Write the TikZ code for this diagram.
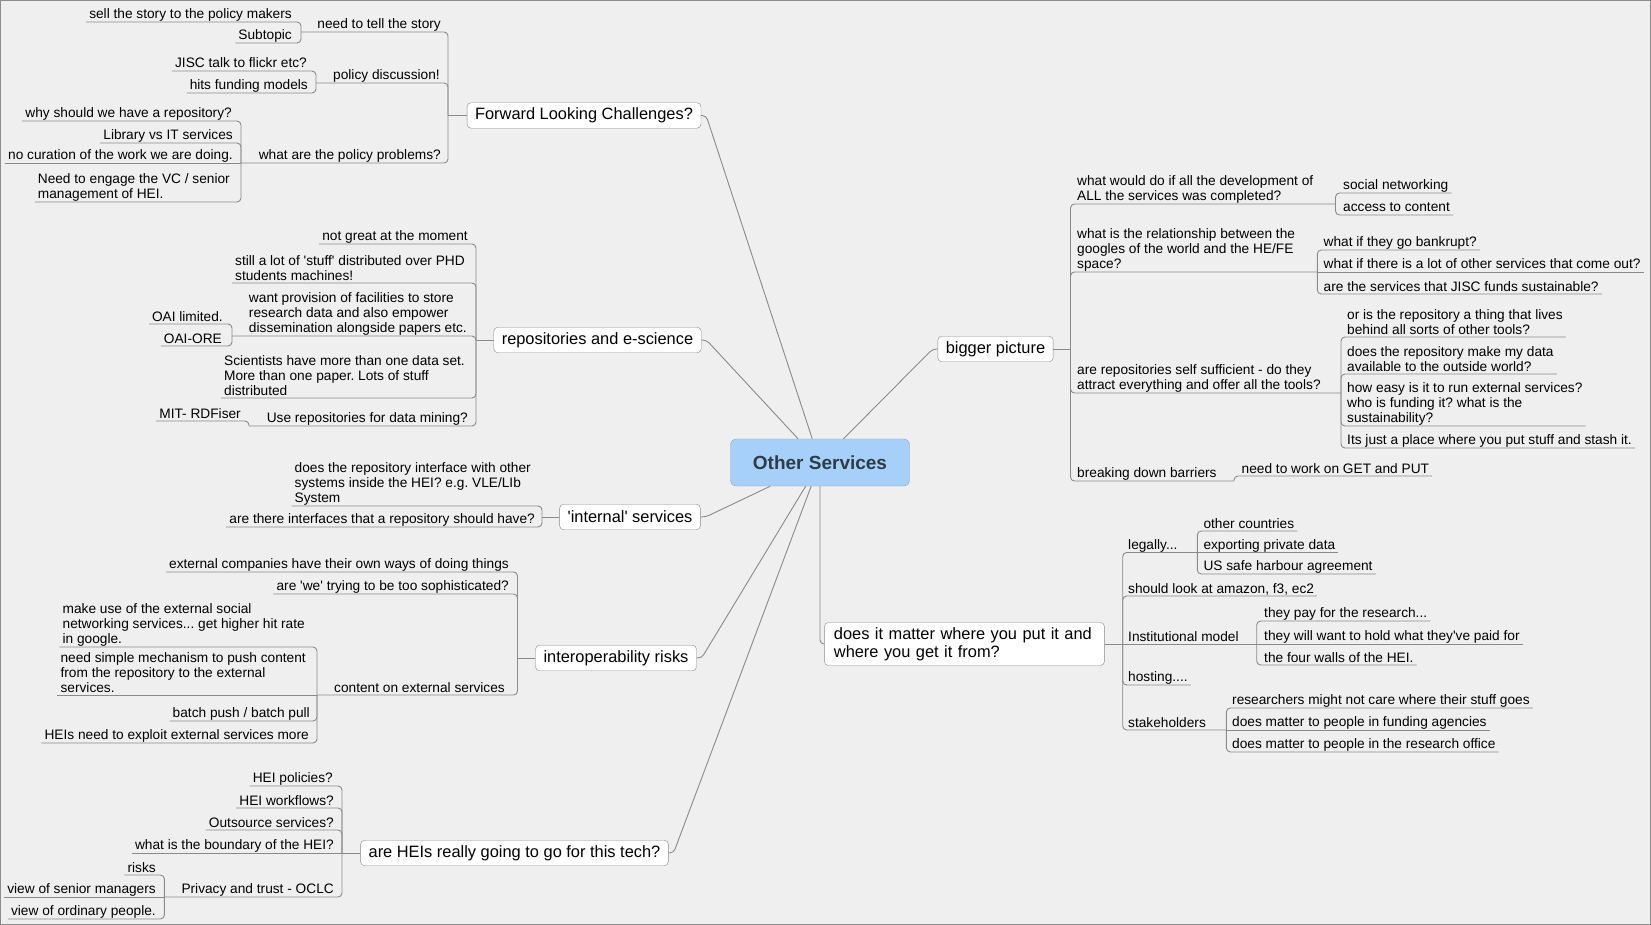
\documentclass[tikz,border=0pt]{standalone}
\usepackage{fontspec}
\setmainfont{Liberation Sans}
\frenchspacing
\definecolor{paper}{HTML}{EFEFEF}
\definecolor{frame}{HTML}{8C8C8C}
\definecolor{wire}{HTML}{8A8A8A}
\definecolor{rootfill}{HTML}{A6D0FA}
\definecolor{rootline}{HTML}{8FA3B8}
\definecolor{roottext}{HTML}{2F3B47}
\newcommand\ulfix{\rule[-2.8pt]{0pt}{2.8pt}}

\begin{document}
\begin{tikzpicture}[x=1pt,y=-1pt,
    root/.style={draw=rootline,fill=rootfill,rounded corners=6pt,minimum width=179pt,minimum height=47pt,
      font=\fontsize{19}{22}\selectfont\bfseries,text=roottext},
    topic/.style={draw=wire,fill=white,rounded corners=4pt,minimum height=25.5pt,inner xsep=8pt,inner ysep=0pt,
      font=\fontsize{16.4}{18.3}\selectfont},
    leaf/.style={inner xsep=3pt,inner ysep=0pt,align=left,font=\fontsize{13.7}{15}\selectfont,execute at end node=\ulfix},
    lleaf/.style={leaf,anchor=south east},
    rleaf/.style={leaf,anchor=south west},
    link/.style={draw=wire,line width=0.9pt,rounded corners=4pt}]
  \useasboundingbox (0,0) rectangle (1651,925);
  \fill[paper] (0,0) rectangle (1651,925);
  \draw[frame] (0.5,0.5) rectangle (1650.5,924.5);

  \node[root] (center) at (820,462.5) {Other Services};

  \node[topic] (fwd) at (584,115.5) {Forward Looking Challenges?};
  \node[topic] (repo) at (597.5,340) {repositories and e-science};
  \node[topic] (internal) at (630,517) {\textquotesingle internal\textquotesingle{} services};
  \node[topic] (interop) at (616,658) {interoperability risks};
  \node[topic] (heis) at (514.5,853) {are HEIs really going to go for this tech?};
  \node[topic] (big) at (995.5,349) {bigger picture};
  \node[topic,align=left,text width=261pt,inner xsep=9.5pt,minimum height=43pt] (matter) at (964.4,644)
    {does it matter where you put it and\\where you get it from?};

  \node[lleaf] (need) at (444,32) {need to tell the story};
  \node[lleaf] (sell) at (295,22) {sell the story to the policy makers};
  \node[lleaf] (subtopic) at (295,43) {Subtopic};
  \node[lleaf] (policy) at (443,83) {policy discussion!};
  \node[lleaf] (flickr) at (310,71) {JISC talk to flickr etc?};
  \node[lleaf] (funding) at (311,93) {hits funding models};
  \node[lleaf] (problems) at (444,163) {what are the policy problems?};
  \node[lleaf] (why) at (235,121) {why should we have a repository?};
  \node[lleaf] (libit) at (236,143) {Library vs IT services};
  \node[lleaf] (curation) at (236,163) {no curation of the work we are doing.};
  \node[lleaf] (engage) at (233,202) {Need to engage the VC / senior\\management of HEI.};
  \coordinate (fwd-s) at (448,115.5);
  \coordinate (need-s) at (301,32);
  \coordinate (policy-s) at (316,83);
  \coordinate (problems-s) at (241,163);

  \node[lleaf] (notgreat) at (471,244) {not great at the moment};
  \node[lleaf] (phd) at (468,283) {still a lot of \textquotesingle stuff\textquotesingle{} distributed over PHD\\students machines!};
  \node[lleaf] (provision) at (470,336) {want provision of facilities to store\\research data and also empower\\dissemination alongside papers etc.};
  \node[lleaf] (oailim) at (226,324) {OAI limited.};
  \node[lleaf] (oaiore) at (225,346) {OAI-ORE};
  \node[lleaf] (datasets) at (468,398) {Scientists have more than one data set.\\More than one paper. Lots of stuff\\distributed};
  \node[lleaf] (mining) at (471,426) {Use repositories for data mining?};
  \node[lleaf] (rdfiser) at (244,421) {MIT- RDFiser};
  \coordinate (repo-s) at (476,340);
  \coordinate (provision-s) at (232,336);
  \coordinate (mining-s) at (249,426);

  \node[lleaf] (iface) at (534,506) {does the repository interface with other\\systems inside the HEI? e.g. VLE/LIb\\System};
  \node[lleaf] (ifhave) at (538,527) {are there interfaces that a repository should have?};
  \coordinate (internal-s) at (542,517);

  \node[lleaf] (extcomp) at (512,572) {external companies have their own ways of doing things};
  \node[lleaf] (sophist) at (512,594) {are \textquotesingle we\textquotesingle{} trying to be too sophisticated?};
  \node[lleaf] (content) at (508,695) {content on external services};
  \node[lleaf] (hitrate) at (308,647) {make use of the external social\\networking services... get higher hit rate\\in google.};
  \node[lleaf] (push) at (309,695) {need simple mechanism to push content\\from the repository to the external\\services.};
  \node[lleaf] (batch) at (313,721) {batch push / batch pull};
  \node[lleaf] (exploit) at (312,743) {HEIs need to exploit external services more};
  \coordinate (interop-s) at (517.5,658);
  \coordinate (content-s) at (317,695);

  \node[lleaf] (heipol) at (336,786) {HEI policies?};
  \node[lleaf] (heiwork) at (337,808) {HEI workflows?};
  \node[lleaf] (outsource) at (337,830) {Outsource services?};
  \node[lleaf] (boundary) at (337,853) {what is the boundary of the HEI?};
  \node[lleaf] (privacy) at (337,897) {Privacy and trust - OCLC};
  \node[lleaf] (risks) at (159,875) {risks};
  \node[lleaf] (seniors) at (159,897) {view of senior managers};
  \node[lleaf] (ordinary) at (159,919) {view of ordinary people.};
  \coordinate (heis-s) at (342,853);
  \coordinate (privacy-s) at (164.4,897);

  \node[rleaf] (develop) at (1074,204) {what would do if all the development of\\ALL the services was completed?};
  \node[rleaf] (socialnet) at (1340,193) {social networking};
  \node[rleaf] (access) at (1340,215) {access to content};
  \node[rleaf] (relation) at (1074,272) {what is the relationship between the\\googles of the world and the HE/FE\\space?};
  \node[rleaf] (bankrupt) at (1320.5,250) {what if they go bankrupt?};
  \node[rleaf] (comeout) at (1320.5,272) {what if there is a lot of other services that come out?};
  \node[rleaf] (sustain) at (1320.5,294) {are the services that JISC funds sustainable?};
  \node[rleaf] (selfsuff) at (1074,393) {are repositories self sufficient - do they\\attract everything and offer all the tools?};
  \node[rleaf] (lives) at (1344,337) {or is the repository a thing that lives\\behind all sorts of other tools?};
  \node[rleaf] (outside) at (1344,374) {does the repository make my data\\available to the outside world?};
  \node[rleaf] (easy) at (1344,426) {how easy is it to run external services?\\who is funding it? what is the\\sustainability?};
  \node[rleaf] (stash) at (1344,448) {Its just a place where you put stuff and stash it.};
  \node[rleaf] (barriers) at (1074,481) {breaking down barriers};
  \node[rleaf] (getput) at (1238.5,476) {need to work on GET and PUT};
  \coordinate (big-s) at (1070.5,349);
  \coordinate (develop-s) at (1335.5,204);
  \coordinate (relation-s) at (1317.3,272);
  \coordinate (selfsuff-s) at (1341,393);
  \coordinate (barriers-s) at (1234,481);

  \node[rleaf] (legally) at (1125,552.5) {legally...};
  \node[rleaf] (countries) at (1200.3,531) {other countries};
  \node[rleaf] (private) at (1200.3,552.5) {exporting private data};
  \node[rleaf] (harbour) at (1200.3,574) {US safe harbour agreement};
  \node[rleaf] (amazon) at (1125,596) {should look at amazon, f3, ec2};
  \node[rleaf] (instit) at (1125,644) {Institutional model};
  \node[rleaf] (research) at (1261,621) {they pay for the research...};
  \node[rleaf] (paidfor) at (1261,644) {they will want to hold what they\textquotesingle ve paid for};
  \node[rleaf] (walls) at (1261,665) {the four walls of the HEI.};
  \node[rleaf] (hosting) at (1125,685) {hosting....};
  \node[rleaf] (stake) at (1125,730) {stakeholders};
  \node[rleaf] (care) at (1229,708) {researchers might not care where their stuff goes};
  \node[rleaf] (agencies) at (1229,730) {does matter to people in funding agencies};
  \node[rleaf] (office) at (1229,752) {does matter to people in the research office};
  \coordinate (matter-s) at (1122.7,644);
  \coordinate (legally-s) at (1197.3,552.5);
  \coordinate (instit-s) at (1256.7,644);
  \coordinate (stake-s) at (1226.4,730);

  \begin{scope}[link]
    \draw (center) -- ([xshift=5pt]fwd.east) -- (fwd.east);
    \draw (center) -- ([xshift=5pt]repo.east) -- (repo.east);
    \draw (center) -- ([xshift=5pt]internal.east) -- (internal.east);
    \draw (center) -- ([xshift=5pt]interop.east) -- (interop.east);
    \draw (center) -- ([xshift=5pt]heis.east) -- (heis.east);
    \draw (center) -- ([xshift=-5pt]big.west) -- (big.west);
    \draw (center) |- (matter.west);

    \draw (fwd.west) -- (fwd-s);
    \draw (need-s) -| (fwd-s);
    \draw (policy-s) -| (fwd-s);
    \draw (problems-s) -| (fwd-s);
    \draw (sell.south west) -| (need-s);
    \draw (subtopic.south west) -| (need-s);
    \draw (flickr.south west) -| (policy-s);
    \draw (funding.south west) -| (policy-s);
    \draw (why.south west) -| (problems-s);
    \draw (libit.south west) -| (problems-s);
    \draw (curation.south west) -- (problems-s);
    \draw (engage.south west) -| (problems-s);

    \draw (repo.west) -- (repo-s);
    \draw (notgreat.south west) -| (repo-s);
    \draw (phd.south west) -| (repo-s);
    \draw (provision-s) -| (repo-s);
    \draw (datasets.south west) -| (repo-s);
    \draw (mining-s) -| (repo-s);
    \draw (oailim.south west) -| (provision-s);
    \draw (oaiore.south west) -| (provision-s);
    \draw (rdfiser.south west) -| (mining-s);

    \draw (internal.west) -- (internal-s);
    \draw (iface.south west) -| (internal-s);
    \draw (ifhave.south west) -| (internal-s);

    \draw (interop.west) -- (interop-s);
    \draw (extcomp.south west) -| (interop-s);
    \draw (sophist.south west) -| (interop-s);
    \draw (content-s) -| (interop-s);
    \draw (hitrate.south west) -| (content-s);
    \draw (push.south west) -- (content-s);
    \draw (batch.south west) -| (content-s);
    \draw (exploit.south west) -| (content-s);

    \draw (heis.west) -- (heis-s);
    \draw (heipol.south west) -| (heis-s);
    \draw (heiwork.south west) -| (heis-s);
    \draw (outsource.south west) -| (heis-s);
    \draw (boundary.south west) -- (heis-s);
    \draw (privacy-s) -| (heis-s);
    \draw (risks.south west) -| (privacy-s);
    \draw (seniors.south west) -- (privacy-s);
    \draw (ordinary.south west) -| (privacy-s);

    \draw (big.east) -- (big-s);
    \draw (develop-s) -| (big-s);
    \draw (relation-s) -| (big-s);
    \draw (selfsuff-s) -| (big-s);
    \draw (barriers-s) -| (big-s);
    \draw (socialnet.south east) -| (develop-s);
    \draw (access.south east) -| (develop-s);
    \draw (bankrupt.south east) -| (relation-s);
    \draw (comeout.south east) -- (relation-s);
    \draw (sustain.south east) -| (relation-s);
    \draw (lives.south east) -| (selfsuff-s);
    \draw (outside.south east) -| (selfsuff-s);
    \draw (easy.south east) -| (selfsuff-s);
    \draw (stash.south east) -| (selfsuff-s);
    \draw (getput.south east) -| (barriers-s);

    \draw (matter.east) -- (matter-s);
    \draw (legally-s) -| (matter-s);
    \draw (amazon.south east) -| (matter-s);
    \draw (instit-s) -- (matter-s);
    \draw (hosting.south east) -| (matter-s);
    \draw (stake-s) -| (matter-s);
    \draw (countries.south east) -| (legally-s);
    \draw (private.south east) -- (legally-s);
    \draw (harbour.south east) -| (legally-s);
    \draw (research.south east) -| (instit-s);
    \draw (paidfor.south east) -- (instit-s);
    \draw (walls.south east) -| (instit-s);
    \draw (care.south east) -| (stake-s);
    \draw (agencies.south east) -- (stake-s);
    \draw (office.south east) -| (stake-s);
  \end{scope}
\end{tikzpicture}
\end{document}
